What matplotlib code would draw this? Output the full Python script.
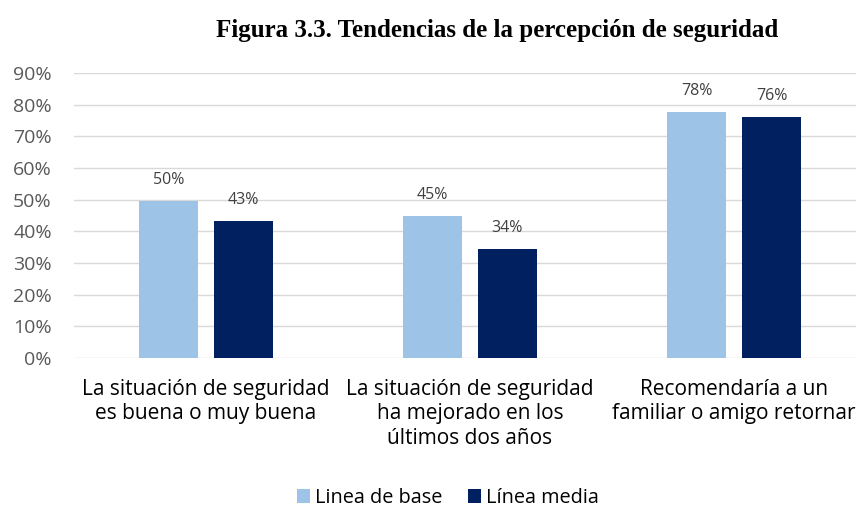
import matplotlib.pyplot as plt
import numpy as np

categories = ["La situación de seguridad\nes buena o muy buena",
              "La situación de seguridad\nha mejorado en los\núltimos dos años",
              "Recomendaría a un\nfamiliar o amigo retornar"]
linea_base = [49.6, 44.9, 77.8]
linea_media = [43.4, 34.4, 76.2]
series_names = ["Linea de base", "Línea media"]
colors = ["#9DC3E6", "#002060"]

plt.rcParams['font.family'] = ['Open Sans', 'DejaVu Sans']

fig = plt.figure(figsize=(8.56, 5.07), dpi=100)
ax = fig.add_axes([74 / 856, 149 / 507, 792 / 856, 285 / 507])

x = np.arange(len(categories))
w = 0.2235
off = 0.142
b1 = ax.bar(x - off, linea_base, w, color=colors[0], label=series_names[0], zorder=3)
b2 = ax.bar(x + off, linea_media, w, color=colors[1], label=series_names[1], zorder=3)

for bars in (b1, b2):
    for b in bars:
        v = b.get_height()
        ax.text(b.get_x() + b.get_width() / 2, v + 4.0, "%d%%" % round(v),
                ha='center', va='bottom', fontsize=11.5, color='#404040')

ax.set_xlim(-0.5, 2.5)
ax.set_ylim(0, 90)
ax.set_yticks(range(0, 91, 10))
ax.set_yticklabels(["%d%%" % t for t in range(0, 91, 10)], fontsize=14, color='#595959')
ax.set_xticks(x)
ax.set_xticklabels(categories, fontsize=15, color='#000000', linespacing=1.22)
ax.tick_params(axis='both', length=0)
ax.tick_params(axis='y', pad=16)
ax.tick_params(axis='x', pad=15)
ax.yaxis.grid(True, color='#D9D9D9', linewidth=1, zorder=0)
for s in ax.spines.values():
    s.set_visible(False)

fig.text(497 / 856, 1 - 30 / 507, "Figura 3.3. Tendencias de la percepción de seguridad",
         ha='center', va='center', fontsize=18, fontweight='bold', family='Liberation Serif')

fig.legend(handles=[b1, b2], loc='center', bbox_to_anchor=(448 / 856, 1 - 498 / 507),
           ncol=2, frameon=False, fontsize=14.3, handlelength=0.65, handleheight=0.65,
           handletextpad=0.25, columnspacing=1.3)

fig.savefig("out.png", dpi=100)
